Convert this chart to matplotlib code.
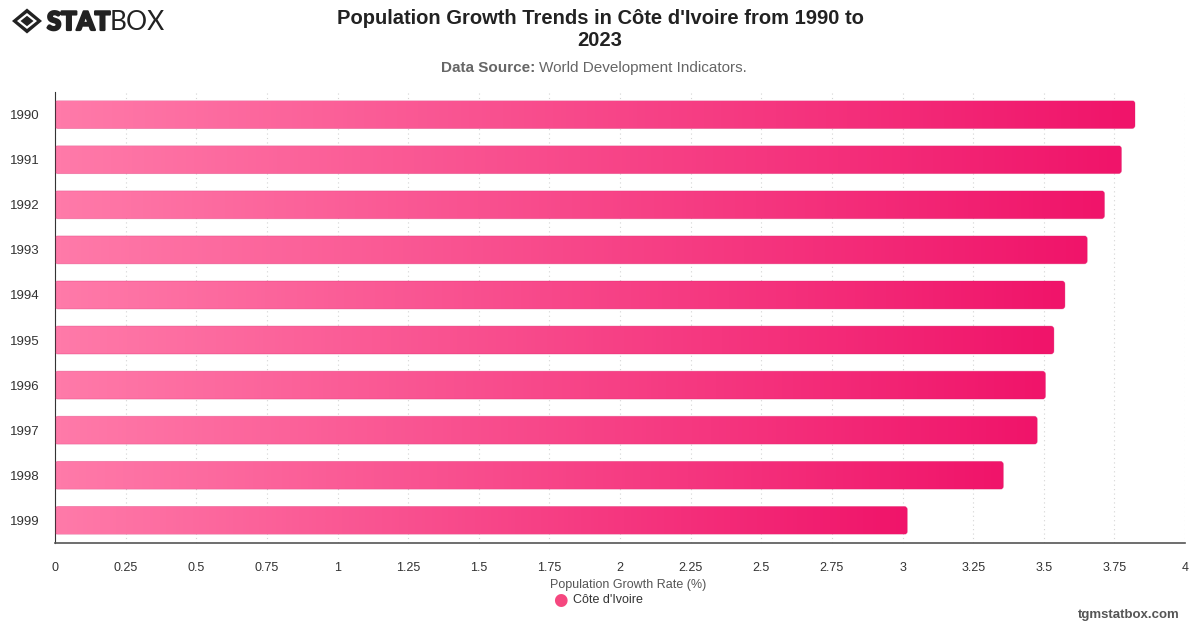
import matplotlib
matplotlib.use("Agg")
import matplotlib.pyplot as plt
import numpy as np
from matplotlib.patches import FancyBboxPatch, Polygon
from matplotlib.colors import LinearSegmentedColormap
import matplotlib.patheffects as pe

plt.rcParams['font.family'] = ['Liberation Sans', 'DejaVu Sans']

years = ["1990", "1991", "1992", "1993", "1994", "1995", "1996", "1997", "1998", "1999"]
growth = [3.823, 3.775, 3.715, 3.654, 3.575, 3.536, 3.506, 3.477, 3.357, 3.017]
xticks = [0, 0.25, 0.5, 0.75, 1, 1.25, 1.5, 1.75, 2, 2.25, 2.5, 2.75, 3, 3.25, 3.5, 3.75, 4]
xtick_labels = ["0", "0.25", "0.5", "0.75", "1", "1.25", "1.5", "1.75", "2", "2.25", "2.5",
                "2.75", "3", "3.25", "3.5", "3.75", "4"]
series_name = "Côte d'Ivoire"

fig = plt.figure(figsize=(12, 6.28), dpi=100)
ax = fig.add_axes([55/1200, 1-543/628, 1130/1200, 451/628])

cmap = LinearSegmentedColormap.from_list("pk", ["#FF7AA9", "#F0146A"])
n = len(years)
ax.set_xlim(0, 4)
ax.set_ylim(n - 0.5, -0.5)
bh = 0.62
grad = np.linspace(0, 1, 256).reshape(1, -1)
xr_unit = 282.5
yr_unit = 45.1
rs = 3 / xr_unit
asp = (3 / yr_unit) / rs
for i, v in enumerate(growth):
    patch = FancyBboxPatch((0, i - bh/2), v, bh,
                           boxstyle=f"round,pad=0,rounding_size={rs}",
                           mutation_aspect=asp, facecolor='none',
                           edgecolor=(0.85, 0.1, 0.4, 0.35), linewidth=0.6, zorder=3)
    ax.add_patch(patch)
    im = ax.imshow(grad, cmap=cmap, aspect='auto', extent=(0, v, i + bh/2, i - bh/2),
                   zorder=2, interpolation='bilinear')
    im.set_clip_path(patch)

ax.set_ylim(n - 0.5, -0.5)
ax.set_xlim(0, 4)
ax.set_xticks(xticks)
ax.set_xticklabels(xtick_labels, fontsize=9, color='#333333')
ax.set_yticks(range(n))
ax.set_yticklabels(years, fontsize=9.5, color='#333333')
ax.tick_params(axis='both', length=0)
ax.tick_params(axis='x', pad=14)
ax.tick_params(axis='y', pad=11)
ax.grid(axis='x', linestyle=(0, (1, 3)), color='#d4d4d4', linewidth=0.8, zorder=0)
ax.set_axisbelow(True)
for s in ['top', 'right']:
    ax.spines[s].set_visible(False)
ax.spines['left'].set_color('#333333')
ax.spines['left'].set_linewidth(0.8)
ax.spines['bottom'].set_color('#555555')
ax.spines['bottom'].set_linewidth(1.2)

# axis label and legend
fig.text(628/1200, 1-585/628, "Population Growth Rate (%)", ha='center', va='center',
         fontsize=9, color='#555555')
fig.text(560/1200, 1-600/628, "●", ha='center', va='center', fontsize=12, color='#F5477F',
         family=['DejaVu Sans'])
fig.text(573/1200, 1-600/628, series_name, ha='left', va='center', fontsize=9, color='#333333')

# title
fig.text(600/1200, 1-18/628, "Population Growth Trends in Côte d'Ivoire from 1990 to",
         ha='center', va='center', fontsize=14.5, fontweight='bold', color='#222222')
fig.text(600/1200, 1-41/628, "2023", ha='center', va='center', fontsize=14.5,
         fontweight='bold', color='#222222')
fig.text(535/1200, 1-68/628, "Data Source:", ha='right', va='center', fontsize=11,
         fontweight='bold', color='#666666')
fig.text(539/1200, 1-68/628, "World Development Indicators.", ha='left', va='center',
         fontsize=11, color='#666666')

# watermark
fig.text(1180/1200, 1-615/628, "tgmstatbox.com", ha='right', va='center', fontsize=9.5,
         fontweight='bold', color='#555555')

# logo
lax = fig.add_axes([0, 1-40/628, 300/1200, 40/628])
lax.set_xlim(0, 300)
lax.set_ylim(40, 0)
lax.axis('off')
cx, cy = 27, 21
outer = Polygon([(cx-15, cy), (cx, cy-12.5), (cx+15, cy), (cx, cy+12.5)], closed=True,
                facecolor='#222222', edgecolor='none')
inner_w = Polygon([(cx-10, cy), (cx, cy-8), (cx+10, cy), (cx, cy+8)], closed=True,
                  facecolor='white', edgecolor='none')
inner = Polygon([(cx-6.5, cy), (cx, cy-5.2), (cx+6.5, cy), (cx, cy+5.2)], closed=True,
                facecolor='#222222', edgecolor='none')
for p in (outer, inner_w, inner):
    lax.add_patch(p)
lax.text(47, 22, "STAT", ha='left', va='center', fontsize=18.5, fontweight='black',
         color='#222222', family=['Lato', 'DejaVu Sans'],
         path_effects=[pe.withStroke(linewidth=1.6, foreground='#222222')])
lax.text(110, 22, "BOX", ha='left', va='center', fontsize=19, fontweight='normal',
         color='#222222', family=['Lato', 'DejaVu Sans'])

fig.savefig("out.png", dpi=100, facecolor='white')
